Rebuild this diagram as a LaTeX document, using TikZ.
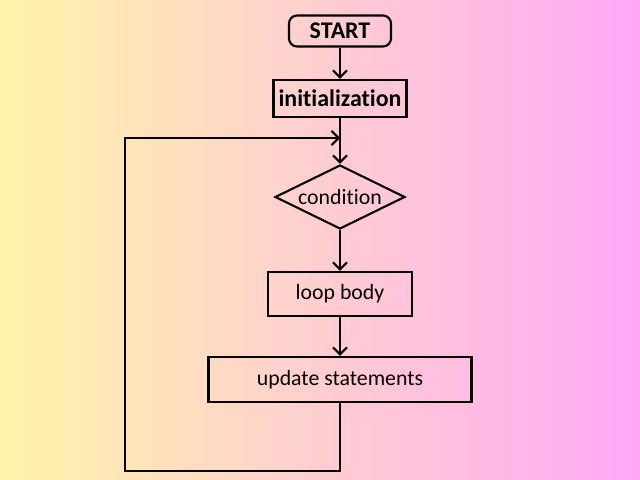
\documentclass[tikz,border=0pt]{standalone}
\usepackage{fontspec}
\setmainfont{Carlito}[Ligatures=NoCommon]
\usetikzlibrary{shapes.geometric,arrows.meta}
\definecolor{bgleft}{RGB}{255,244,170}
\definecolor{bgright}{RGB}{255,168,246}
\tikzset{
  box/.style={draw=black, line width=1.2pt, inner sep=0pt, font=\fontsize{12.4}{14}\selectfont},
  bigbox/.style={box, font=\bfseries\fontsize{13.6}{16}\selectfont},
  flow/.style={draw=black, line width=1.2pt, -{Straight Barb[length=4pt,width=8pt,line width=1.2pt]}},
  plain/.style={draw=black, line width=1.2pt}
}
\begin{document}
\begin{tikzpicture}[x=0.02cm,y=-0.02cm]
\shade[left color=bgleft, right color=bgright] (0,0) rectangle (640,480);
\useasboundingbox (0,0) rectangle (640,480);
\node[bigbox, rounded corners=0.16cm, minimum width=2.04cm, minimum height=0.62cm] (start) at (340,31) {START};
\node[bigbox, minimum width=2.66cm, minimum height=0.74cm] (init) at (340,98.5) {initialization};
\node[box, diamond, aspect=2, minimum width=2.6cm, minimum height=1.28cm] (cond) at (340,197) {condition};
\node[box, minimum width=2.88cm, minimum height=0.88cm] (body) at (340,294) {loop body};
\node[box, minimum width=5.26cm, minimum height=0.9cm] (upd) at (340,379.5) {update statements};
\coordinate (c1) at (125,471);
\coordinate (c2) at (125,138);
\coordinate (m) at (340,138);
\draw[flow] (start) -- (init);
\draw[flow] (init) -- (cond);
\draw[flow] (cond) -- (body);
\draw[flow] (body) -- (upd);
\draw[flow] (upd.south) |- (c1) -- (c2) -- (m);
\end{tikzpicture}
\end{document}
